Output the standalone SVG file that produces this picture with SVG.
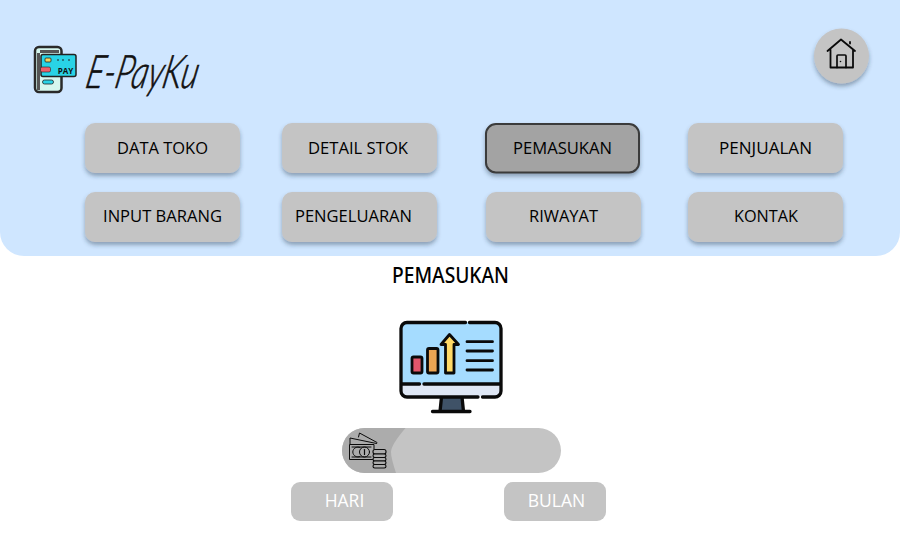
<svg xmlns="http://www.w3.org/2000/svg" width="900" height="550" viewBox="0 0 900 550">
<style>
text{font-family:"Open Sans","Noto Sans",sans-serif}
.btn{fill:#c4c4c4;filter:url(#sh)}
.lbl{font-size:16.500px;fill:#000}
.sub{fill:#c4c4c4}
.wl{font-size:17.500px;fill:#fff;text-anchor:middle}
.k{fill:none;stroke:#0a0a0a;stroke-linecap:round;stroke-linejoin:round}
</style>
<defs>
<filter id="sh" x="-20%" y="-20%" width="140%" height="150%"><feDropShadow dx="0" dy="3" stdDeviation="2" flood-color="#2a3a4c" flood-opacity="0.4"/></filter>
</defs>
<rect width="900" height="550" fill="#fff"/>
<path id="header" d="M0 0H900V232a24 24 0 0 1-24 24H24a24 24 0 0 1-24-24Z" fill="#cfe6ff"/>
<g id="logo">
<rect x="35" y="47" width="26.500" height="45" rx="4" fill="#d6f7ef" stroke="#2a2a2a" stroke-width="2.500"/>
<path d="M37 50H59V53H37ZM37 50V90H40V50Z" fill="#555"/>
<rect x="41" y="54.500" width="35" height="22" rx="2" fill="#29d3e6" stroke="#222" stroke-width="1.500"/>
<rect x="45" y="58" width="6" height="4" rx="1" fill="#f4d35e" stroke="#222" stroke-width="0.800"/>
<rect x="40.500" y="67" width="10" height="5" rx="1.500" fill="#f0606a" stroke="#222" stroke-width="0.600"/>
<path d="M57 60h2M62 60h2M68 60h2" stroke="#222" stroke-width="1.200"/>
<text x="65.500" y="74" font-size="8" font-weight="700" fill="#111" text-anchor="middle">PAY</text>
<rect x="42.500" y="80" width="11" height="4" rx="2" fill="#29d3e6" stroke="#222" stroke-width="0.800"/>
</g>
<text id="brand" transform="translate(84 88) skewX(-12)" x="0" y="0" font-size="46" font-weight="300" textLength="112" lengthAdjust="spacingAndGlyphs" stroke="#111" stroke-width="0.700" style="font-family:Lato,'Liberation Sans',sans-serif;font-style:italic" fill="#111">E-PayKu</text>
<g id="home">
<circle cx="841.500" cy="56" r="27.500" fill="#c4c4c4" filter="url(#sh)"/>
<path class="k" stroke-width="1.800" d="M827.500 51L841 39.500L855 51M850 43.500v-1.500M830.500 49.500V67.500H853V49.500"/>
<path class="k" stroke-width="1.700" d="M837 67.500V56Q837 55 838 55H845Q846 55 846 56V67.500"/>
<circle cx="840.500" cy="61.500" r="0.800" fill="#0a0a0a"/>
</g>
<g id="btn-data-toko"><rect class="btn" x="85" y="123" width="155" height="50" rx="10"/><text class="lbl" x="117" y="154" textLength="91" lengthAdjust="spacingAndGlyphs">DATA TOKO</text></g>
<g id="btn-detail-stok"><rect class="btn" x="282" y="123" width="155" height="50" rx="10"/><text class="lbl" x="308" y="154" textLength="100" lengthAdjust="spacingAndGlyphs">DETAIL STOK</text></g>
<g id="btn-pemasukan"><rect x="486" y="124" width="153" height="48.500" rx="10" fill="#a3a3a3" stroke="#3a3a3a" stroke-width="2" filter="url(#sh)"/><text class="lbl" x="513" y="154" textLength="99" lengthAdjust="spacingAndGlyphs">PEMASUKAN</text></g>
<g id="btn-penjualan"><rect class="btn" x="688" y="123" width="155" height="50" rx="10"/><text class="lbl" x="719" y="154" textLength="93" lengthAdjust="spacingAndGlyphs">PENJUALAN</text></g>
<g id="btn-input-barang"><rect class="btn" x="85" y="192" width="155" height="50" rx="10"/><text class="lbl" x="103" y="222" textLength="119" lengthAdjust="spacingAndGlyphs">INPUT BARANG</text></g>
<g id="btn-pengeluaran"><rect class="btn" x="282" y="192" width="155" height="50" rx="10"/><text class="lbl" x="295" y="222" textLength="117" lengthAdjust="spacingAndGlyphs">PENGELUARAN</text></g>
<g id="btn-riwayat"><rect class="btn" x="486" y="192" width="155" height="50" rx="10"/><text class="lbl" x="529" y="222" textLength="69" lengthAdjust="spacingAndGlyphs">RIWAYAT</text></g>
<g id="btn-kontak"><rect class="btn" x="688" y="192" width="155" height="50" rx="10"/><text class="lbl" x="734" y="222" textLength="64" lengthAdjust="spacingAndGlyphs">KONTAK</text></g>
<text id="title" x="392" y="283" font-size="21" font-weight="500" fill="#000" textLength="117" lengthAdjust="spacingAndGlyphs" style="font-family:'Noto Sans',sans-serif">PEMASUKAN</text>
<g id="monitor">
<rect x="400.500" y="322.500" width="101" height="63" rx="5" fill="#a5dcff"/>
<path d="M401 384H501V391a5 5 0 0 1-5 5H406a5 5 0 0 1-5-5Z" fill="#dfe7f5"/>
<path d="M441 396H462L464 411H439Z" fill="#3f5267"/>
<path class="k" stroke-width="3.300" d="M465.500 322.500H407a6 6 0 0 0-6 6V391a6 6 0 0 0 6 6H478M482.500 397H495a6 6 0 0 0 6-6V328.500a6 6 0 0 0-6-6H469.500M401 384H419.500M424 384H501M441.500 397L440 411.500M462 397L463.500 411.500M432.500 411.500H470"/>
<rect x="412" y="357" width="10" height="16" rx="1.500" fill="#e2566b" stroke="#0a0a0a" stroke-width="2.800"/>
<rect x="427.500" y="348.500" width="10.500" height="24.500" rx="1.500" fill="#eda553" stroke="#0a0a0a" stroke-width="2.800"/>
<path d="M445.500 373V344.500H441L449.500 334.500L458.500 344.500H454V373Z" fill="#ffd966" stroke="#0a0a0a" stroke-width="2.800" stroke-linejoin="round"/>
<path class="k" stroke-width="2.800" d="M467 341.700H492.500M467 351H492.500M467 360.700H492.500M467 370H492.500"/>
</g>
<g id="amount">
<rect class="sub" x="342" y="428" width="219" height="45" rx="22.500"/>
<path d="M364.500 428H405.500Q391 445 391 452Q391 458 396 473H364.500a22.500 22.500 0 0 1 0-45Z" fill="#acacac"/>
<g class="k" stroke-width="1">
<path d="M350 444V438L376.500 443.500M358.500 437L359.500 433L377 442.500"/>
<path d="M372.500 459.500H349.500V444.500H374V449"/>
<path d="M352 447H371M352 457H371"/>
<circle cx="364.500" cy="452" r="5"/>
<path d="M360 447.500a5 5 0 1 0 0 9"/>
<path d="M364.500 449.500v5" stroke-width="1.200"/>
<rect x="373" y="449.500" width="13" height="4.500" rx="2" fill="#acacac" stroke-width="1.100"/>
<rect x="373" y="454" width="13" height="3.500" rx="1.700" fill="#acacac" stroke-width="1.100"/>
<rect x="373" y="457.500" width="13" height="3.500" rx="1.700" fill="#acacac" stroke-width="1.100"/>
<rect x="373" y="461" width="13" height="3.500" rx="1.700" fill="#acacac" stroke-width="1.100"/>
<rect x="373" y="464.500" width="13" height="3.500" rx="1.700" fill="#acacac" stroke-width="1.100"/>
</g>
</g>
<g id="btn-hari"><rect class="sub" x="291" y="482" width="102" height="39" rx="9"/><text class="wl" x="344.500" y="507">HARI</text></g>
<g id="btn-bulan"><rect class="sub" x="504" y="482" width="102" height="39" rx="9"/><text class="wl" x="556.500" y="507">BULAN</text></g>
</svg>
